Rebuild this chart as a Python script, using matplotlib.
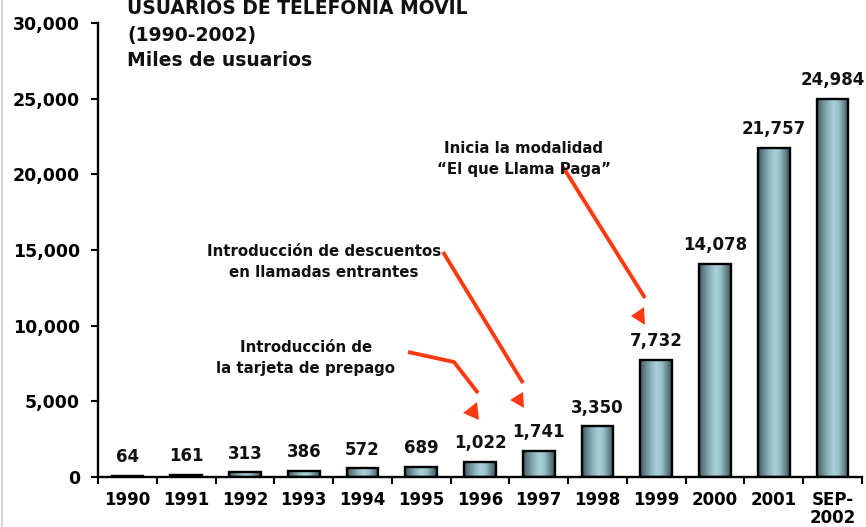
import numpy as np
import matplotlib
matplotlib.use("Agg")
import matplotlib.pyplot as plt
from matplotlib.colors import LinearSegmentedColormap
from matplotlib.patches import Polygon
from matplotlib.lines import Line2D

categories = ["1990", "1991", "1992", "1993", "1994", "1995", "1996",
              "1997", "1998", "1999", "2000", "2001", "SEP-\n2002"]
usuarios = [64, 161, 313, 386, 572, 689, 1022, 1741, 3350, 7732, 14078, 21757, 24984]
value_labels = ["64", "161", "313", "386", "572", "689", "1,022", "1,741",
                "3,350", "7,732", "14,078", "21,757", "24,984"]
yticks = [0, 5000, 10000, 15000, 20000, 25000, 30000]
ytick_labels = ["0", "5,000", "10,000", "15,000", "20,000", "25,000", "30,000"]

title_lines = ["USUARIOS DE TELEFONIA MOVIL", "(1990-2002)", "Miles de usuarios"]
note_prepago = "Introducción de\nla tarjeta de prepago"
note_descuentos = "Introducción de descuentos\nen llamadas entrantes"
note_cpp = "Inicia la modalidad\n\u201cEl que Llama Paga\u201d"

W, H = 866, 527
fig = plt.figure(figsize=(W / 100, H / 100), dpi=100)
ax = fig.add_axes([98 / W, 1 - 477 / H, (862 - 98) / W, (477 - 23) / H])

FONT = "DejaVu Sans"
RED = "#ff3a10"

cyl = LinearSegmentedColormap.from_list(
    "cyl",
    [(0.0, "#3f5258"), (0.12, "#5f7b82"), (0.35, "#8fb5be"), (0.52, "#a8d1da"),
     (0.68, "#98c0c9"), (0.85, "#68878e"), (1.0, "#3c4f54")])

x = np.arange(len(categories))
bars = ax.bar(x, usuarios, width=0.54, facecolor="none", edgecolor="black",
              linewidth=1.7, zorder=3)
grad = np.linspace(0, 1, 256).reshape(1, -1)
for b in bars:
    x0, w, h = b.get_x(), b.get_width(), b.get_height()
    im = ax.imshow(grad, extent=[x0, x0 + w, 0, h], aspect="auto", cmap=cyl,
                   origin="lower", zorder=2, interpolation="bilinear")
    im.set_clip_path(b)

for xi, v, lab in zip(x, usuarios, value_labels):
    ax.annotate(lab, (xi, v), xytext=(0, 7), textcoords="offset points",
                ha="center", va="bottom", fontsize=12, fontweight="bold",
                family=FONT, color="#111111")

ax.set_xlim(-0.5, len(categories) - 0.5)
ax.set_ylim(0, 30000)

ax.set_yticks(yticks)
ax.set_yticklabels(ytick_labels, fontsize=12.5, fontweight="bold", family=FONT)
ax.tick_params(axis="y", length=5, width=1.5, pad=8)

ax.set_xticks(x)
ax.set_xticklabels(categories, fontsize=12, fontweight="bold", family=FONT,
                   linespacing=1.0)
ax.set_xticks(np.arange(len(categories) + 1) - 0.5, minor=True)
ax.tick_params(axis="x", which="major", length=0, pad=10)
ax.tick_params(axis="x", which="minor", length=5, width=1.5)

for s in ["top", "right"]:
    ax.spines[s].set_visible(False)
for s in ["left", "bottom"]:
    ax.spines[s].set_linewidth(1.7)

# Title block (first line is partly cut by the top edge, as in the source)
for txt, yb in zip(title_lines, [14, 41.5, 65.5]):
    fig.text(127 / W, 1 - yb / H, txt, fontsize=13.5, fontweight="bold",
             family=FONT, ha="left", va="baseline", color="#111111")

def P(px, py):
    return (px / W, 1 - py / H)

def note(txt, cx, cy):
    fig.text(*P(cx, cy), txt, fontsize=10.8, fontweight="bold", family=FONT,
             ha="center", va="center", linespacing=1.45, color="#111111")

note(note_prepago, 306, 358)
note(note_descuentos, 324, 262)
note(note_cpp, 524, 159)

def poly_line(pts):
    xs, ys = zip(*[P(*p) for p in pts])
    fig.add_artist(Line2D(xs, ys, color=RED, lw=2.8, transform=fig.transFigure,
                          solid_capstyle="butt"))

def tri(pts):
    fig.add_artist(Polygon([P(*p) for p in pts], closed=True, color=RED,
                           transform=fig.transFigure, lw=0))

poly_line([(408, 352), (454, 362), (478, 393)])
tri([(463, 413), (477, 402), (479, 420)])

poly_line([(443, 252), (523, 383)])
tri([(510, 400), (523, 392), (524, 408)])

poly_line([(563, 167), (645, 298)])
tri([(631, 316), (644, 307), (645, 325)])

fig.add_artist(Line2D([2 / W, 2 / W], [0, 1], color="#d8d8d8", lw=1.5,
                      transform=fig.transFigure))

fig.savefig("out.png", dpi=100)
